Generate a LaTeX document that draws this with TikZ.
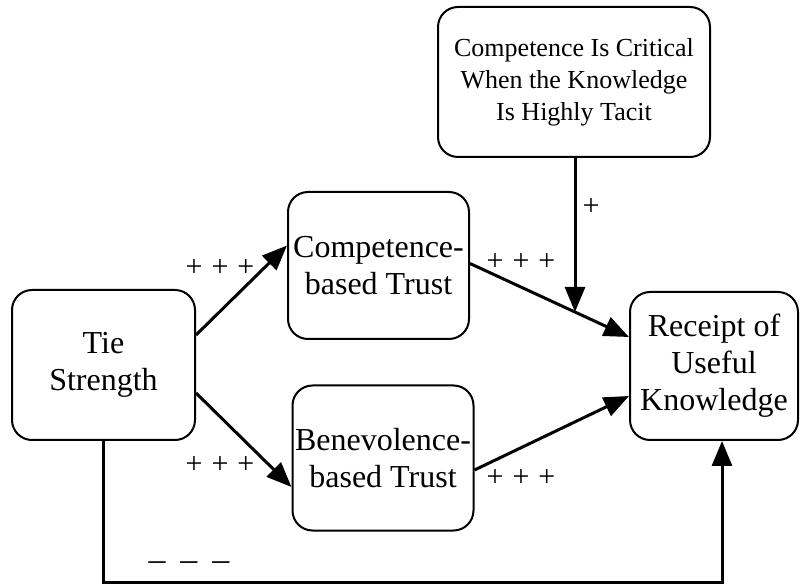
\documentclass[tikz,border=0pt]{standalone}
\usepackage{fontspec}
\setmainfont{Liberation Serif}
\usetikzlibrary{arrows.meta,calc}
\begin{document}
\begin{tikzpicture}[x=1pt,y=-1pt,
  box/.style={draw,line width=2pt,rounded corners=20pt,align=center,inner sep=0pt},
  bigtxt/.style={font=\fontsize{32}{37}\selectfont},
  smalltxt/.style={font=\fontsize{26}{32}\selectfont},
  conn/.style={line width=3pt,-{Triangle[length=25pt,width=20pt]}},
  sign/.style={font=\fontsize{30}{30}\selectfont,inner sep=0pt}]
\useasboundingbox (0,0) rectangle (804,585);
\node[box,bigtxt,minimum width=183pt,minimum height=150pt] (S) at (103.5,365) {Tie\\Strength};
\node[box,bigtxt,minimum width=181pt,minimum height=147pt] (C) at (378.5,265.5) {Competence-\\based Trust};
\node[box,bigtxt,minimum width=181pt,minimum height=145pt] (B) at (383,458) {Benevolence-\\based Trust};
\node[box,bigtxt,minimum width=168pt,minimum height=148pt] (R) at (714,366) {Receipt of\\Useful\\Knowledge};
\node[box,smalltxt,minimum width=272pt,minimum height=150pt] (T) at (574,82) {Competence Is Critical\\When the Knowledge\\Is Highly Tacit};
\coordinate (M) at (575,312);
\coordinate (base) at (0,582);
\draw[conn] ([yshift=30pt]S.east) -- ([yshift=20pt]C.west);
\draw[conn] ([yshift=-28pt]S.east) -- ([yshift=-29pt]B.west);
\draw[conn] ([yshift=2pt]C.east) -- ([yshift=29pt]R.west);
\draw[conn] ([yshift=-12pt]B.east) -- ([yshift=-30pt]R.west);
\draw[conn] (T.south -| M) -- (M);
\draw[conn,line cap=rect] (S.south) -- (S.south |- base) -| ([xshift=8pt]R.south);
\node[sign] (p1) at (220,268) {+\hspace{9pt}+\hspace{9pt}+};
\node[sign] (p2) at (220,465) {+\hspace{9pt}+\hspace{9pt}+};
\node[sign] (p3) at (521,262) {+\hspace{9pt}+\hspace{9pt}+};
\node[sign] (p4) at (521,478) {+\hspace{9pt}+\hspace{9pt}+};
\node[sign] (p5) at (591,207) {+};
\node[font=\fontsize{34}{34}\selectfont,inner sep=0pt] (m1) at (189,566) {–\hspace{15pt}–\hspace{15pt}–};
\end{tikzpicture}
\end{document}
